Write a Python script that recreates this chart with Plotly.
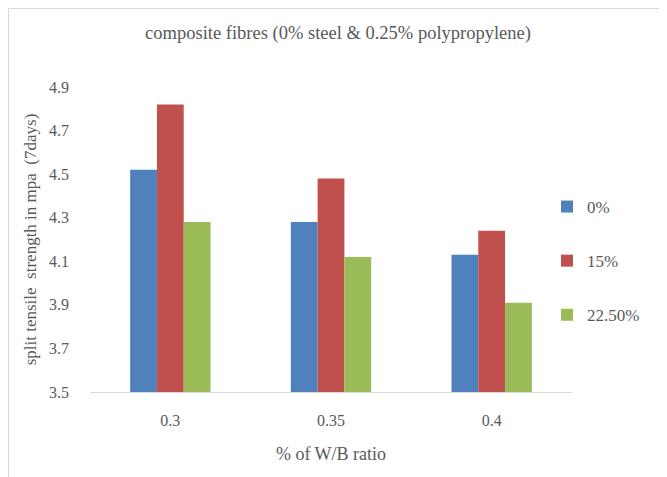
import plotly.graph_objects as go

categories = ["0.3", "0.35", "0.4"]
series_names = ["0%", "15%", "22.50%"]
vals_0 = [4.52, 4.28, 4.13]
vals_15 = [4.82, 4.48, 4.24]
vals_225 = [4.28, 4.12, 3.91]
colors = ["#4F81BD", "#C0504D", "#9BBB59"]
y_ticks = [3.5, 3.7, 3.9, 4.1, 4.3, 4.5, 4.7, 4.9]

# page body adds an 8px offset; compensate so screen positions match
OFF = 8
W, H = 667, 477
L, T = 90 - OFF, 87 - OFF
R = W - (572 - OFF)
B = H - (392 - OFF)
pw, ph = W - L - R, H - T - B

fig = go.Figure()
for name, vals, col in zip(series_names, [vals_0, vals_15, vals_225], colors):
    fig.add_trace(go.Bar(x=categories, y=vals, name=name, marker_color=col,
                         marker_line_width=0, legendgroup=name))

font_family = "'Liberation Serif', 'Times New Roman', serif"
gray = "#595959"

def px_x(p):
    return (p - OFF - L) / pw

def px_y(p):
    return (H - B - (p - OFF)) / ph

fig.update_layout(
    width=W, height=H,
    margin=dict(l=L, r=R, t=T, b=B),
    paper_bgcolor="white", plot_bgcolor="white",
    barmode="group", bargap=0.5, bargroupgap=0,
    font=dict(family=font_family, color=gray, size=16),
    title=dict(text="composite fibres (0% steel & 0.25% polypropylene)",
               x=px_x(338), xref="paper", xanchor="center",
               y=1 - (33 - OFF) / H, yanchor="middle",
               font=dict(size=18.5, family=font_family, color=gray)),
    xaxis=dict(showline=True, linecolor="#D9D9D9", linewidth=1,
               showgrid=False, ticks="", tickfont=dict(size=16),
               ticklabelstandoff=14,
               title=dict(text="% of W/B ratio", font=dict(size=18), standoff=19)),
    yaxis=dict(range=[3.5, 4.9], tickvals=y_ticks, tickformat=".1f",
               showgrid=False, showline=False, zeroline=False, ticks="",
               ticklabelstandoff=20, tickfont=dict(size=16),
               title=dict(text="split tensile\u00a0 strength in mpa\u00a0 (7days)",
                          font=dict(size=17), standoff=8)),
    legend=dict(x=px_x(547), xanchor="left", y=px_y(189), yanchor="top",
                font=dict(size=17, family=font_family, color=gray),
                tracegroupgap=29, traceorder="grouped",
                itemwidth=30,
                bgcolor="rgba(0,0,0,0)"),
    shapes=[dict(type="rect", xref="paper", yref="paper",
                 x0=(0.5 - L) / pw, x1=(W + 20 - L) / pw,
                 y0=(H - B - (H + 20)) / ph, y1=(H - B - 0.5) / ph,
                 line=dict(color="#D9D9D9", width=1), fillcolor="rgba(0,0,0,0)",
                 layer="below")],
)

fig.write_html("out.html")
